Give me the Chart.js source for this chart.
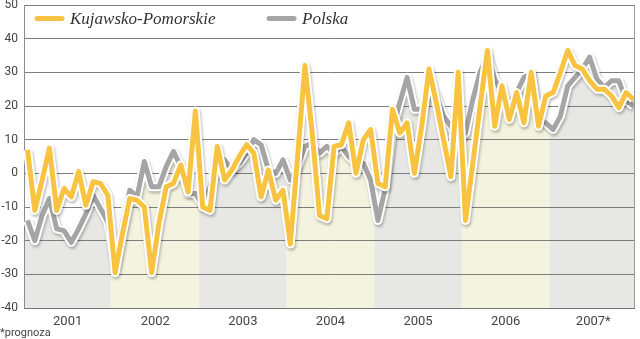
<!DOCTYPE html>
<html>
<head>
<meta charset="utf-8">
<script src="https://cdn.jsdelivr.net/npm/chart.js@4.4.1/dist/chart.umd.min.js"></script>
<style>
  html, body { margin: 0; padding: 0; background: #fff; }
</style>
</head>
<body>
<canvas id="saldoChart" width="640" height="339"></canvas>
<script>
// monthly values, Jan 2001 - Dec 2007 (2007 = forecast)
var years = ['2001', '2002', '2003', '2004', '2005', '2006', '2007*'];

var kujawsko = [
    7, -11, -2, 7.5, -11, -4.5, -7, 0.5, -9.5, -2.5, -3, -6.5,
    -29.5, -18, -7.5, -8, -10, -29.5, -15, -4, -3, 2.5, -5.5, 18.5,
    -10, -11, 8, -2, 1, 5, 8.5, 6, -7, 1, -8, -5,
    -21, 5, 32, 12, -12.5, -13.5, 8, 8.5, 15, 0, 10, 13,
    -3, -4, 19, 12, 15, 0, 14, 31, 21, 10, -1, 30,
    -14, 3, 20, 36.5, 14, 26, 16, 24, 15, 30, 14, 23,
    24, 30, 36.5, 32, 31, 27.5, 25, 25, 23, 19.5, 24, 22
];

var polska = [
    -14, -20, -12.5, -7.5, -16.5, -17, -20.5, -16.5, -12, -6.5, -10.5, -14.5,
    -27, -15, -5, -7, 3.5, -4, -4, 2, 6.5, 2, -6, -6,
    -9.5, -4, 5, 4, 1, 3, 6, 10, 8.5, 1, 0, 4,
    -2, 2, 8, 9, 6, 8, 6, 8, 5, 3, 3, -2,
    -14, -4.5, 13, 21, 28.5, 19, 19, 26, 23, 17, 14, 10,
    12, 22, 30, 35, 28, 24, 21, 24, 28.5, 29.5, 16, 15,
    13, 17, 26, 28.5, 31, 34.5, 28, 25.5, 27.5, 27.5, 21.5, 20
];

var yellow = '#f7c341';
var grey = '#a5a5a5';

function toPoints(values) {
    return values.map(function (v, i) { return { x: i, y: v }; });
}

// alternating year bands, filled only below the Polska line
var yearBands = {
    id: 'yearBands',
    beforeDraw: function (chart) {
        var ctx = chart.ctx;
        var area = chart.chartArea;
        var xs = chart.scales.x;
        var pts = chart.getDatasetMeta(2).data;
        if (!pts.length) return;
        ctx.save();
        ctx.beginPath();
        ctx.moveTo(area.left, area.bottom);
        ctx.lineTo(area.left, pts[0].y);
        pts.forEach(function (p) { ctx.lineTo(p.x, p.y); });
        ctx.lineTo(area.right, pts[pts.length - 1].y);
        ctx.lineTo(area.right, area.bottom);
        ctx.closePath();
        ctx.clip();
        years.forEach(function (y, k) {
            var x0 = Math.max(area.left, xs.getPixelForValue(12 * k - 0.5));
            var x1 = Math.min(area.right, xs.getPixelForValue(12 * k + 11.5));
            ctx.fillStyle = k % 2 ? '#f4f3e0' : '#e7e7e4';
            ctx.fillRect(x0, area.top, x1 - x0, area.bottom - area.top);
        });
        ctx.restore();
    },
    beforeDatasetsDraw: function (chart) {
        // right edge of the frame
        var ctx = chart.ctx, area = chart.chartArea;
        ctx.save();
        ctx.strokeStyle = '#9a9a9a';
        ctx.lineWidth = 1;
        ctx.beginPath();
        ctx.moveTo(Math.round(area.right) + 0.5, area.top);
        ctx.lineTo(Math.round(area.right) + 0.5, area.bottom);
        ctx.stroke();
        ctx.restore();
    }
};

// soft shadow under the white outline of each line
var lineShadow = {
    id: 'lineShadow',
    beforeDatasetDraw: function (chart, args) {
        var ctx = chart.ctx;
        ctx.save();
        if (chart.data.datasets[args.index].halo) {
            ctx.shadowColor = 'rgba(0, 0, 0, 0.28)';
            ctx.shadowBlur = 3;
            ctx.shadowOffsetX = 1;
            ctx.shadowOffsetY = 2;
        }
    },
    afterDatasetDraw: function (chart) {
        chart.ctx.restore();
    }
};

// legend inside the plot + footnote
var lineLegend = {
    id: 'lineLegend',
    afterDraw: function (chart) {
        var ctx = chart.ctx;
        var items = [{ ds: 0, x: 37 }, { ds: 2, x: 269 }];
        ctx.save();
        items.forEach(function (it) {
            var ds = chart.data.datasets[it.ds];
            ctx.strokeStyle = ds.borderColor;
            ctx.lineWidth = 5;
            ctx.lineCap = 'round';
            ctx.beginPath();
            ctx.moveTo(it.x, 18.5);
            ctx.lineTo(it.x + 25, 18.5);
            ctx.stroke();
            ctx.fillStyle = '#333';
            ctx.font = 'italic 17px "Liberation Serif", serif';
            ctx.textBaseline = 'alphabetic';
            ctx.fillText(ds.label, it.x + 33, 24);
        });
        ctx.fillStyle = '#444';
        ctx.font = '11px Roboto, sans-serif';
        ctx.textBaseline = 'middle';
        ctx.fillText('*prognoza', 0, 333);
        ctx.restore();
    }
};

var ctx = document.getElementById('saldoChart').getContext('2d');

var saldoChart = new Chart(ctx, {
    type: 'line',
    data: {
        datasets: [{
            label: 'Kujawsko-Pomorskie',
            data: toPoints(kujawsko),
            borderColor: yellow,
            borderWidth: 5,
            borderJoinStyle: 'round',
            pointRadius: 0,
            tension: 0,
            order: 0
        }, {
            label: '',
            halo: true,
            data: toPoints(kujawsko),
            borderColor: '#ffffff',
            borderWidth: 9,
            borderJoinStyle: 'round',
            pointRadius: 0,
            tension: 0,
            order: 1
        }, {
            label: 'Polska',
            data: toPoints(polska),
            borderColor: grey,
            borderWidth: 5,
            borderJoinStyle: 'round',
            pointRadius: 0,
            tension: 0,
            order: 2
        }, {
            label: '',
            halo: true,
            data: toPoints(polska),
            borderColor: '#ffffff',
            borderWidth: 9,
            borderJoinStyle: 'round',
            pointRadius: 0,
            tension: 0,
            order: 3
        }]
    },
    options: {
        responsive: false,
        animation: false,
        devicePixelRatio: 1,
        layout: { padding: { left: 0, right: 6, top: 5, bottom: 0 } },
        plugins: {
            legend: { display: false },
            tooltip: { enabled: false }
        },
        scales: {
            x: {
                type: 'linear',
                min: -0.48,
                max: 83.08,
                grid: { display: false, drawTicks: false },
                border: { display: true, color: '#777' },
                afterBuildTicks: function (scale) {
                    scale.ticks = years.map(function (y, k) { return { value: 12 * k + 5.5 }; });
                },
                afterFit: function (scale) {
                    scale.height = 31;
                    scale.paddingLeft = 0;
                    scale.paddingRight = 0;
                },
                ticks: {
                    autoSkip: false,
                    maxRotation: 0,
                    padding: 6,
                    color: '#444',
                    font: { family: 'Roboto', size: 13 },
                    callback: function (value, index) { return years[index]; }
                }
            },
            y: {
                min: -40,
                max: 50,
                grid: { color: '#7d7d7d', lineWidth: 1, drawTicks: false },
                border: { display: true, color: '#8a8a8a' },
                afterFit: function (scale) {
                    scale.width = 24;
                    scale.paddingTop = 0;
                    scale.paddingBottom = 0;
                },
                ticks: {
                    stepSize: 10,
                    padding: 6,
                    color: '#444',
                    font: { family: 'Roboto', size: 12 }
                }
            }
        }
    },
    plugins: [yearBands, lineShadow, lineLegend]
});
</script>
</body>
</html>
